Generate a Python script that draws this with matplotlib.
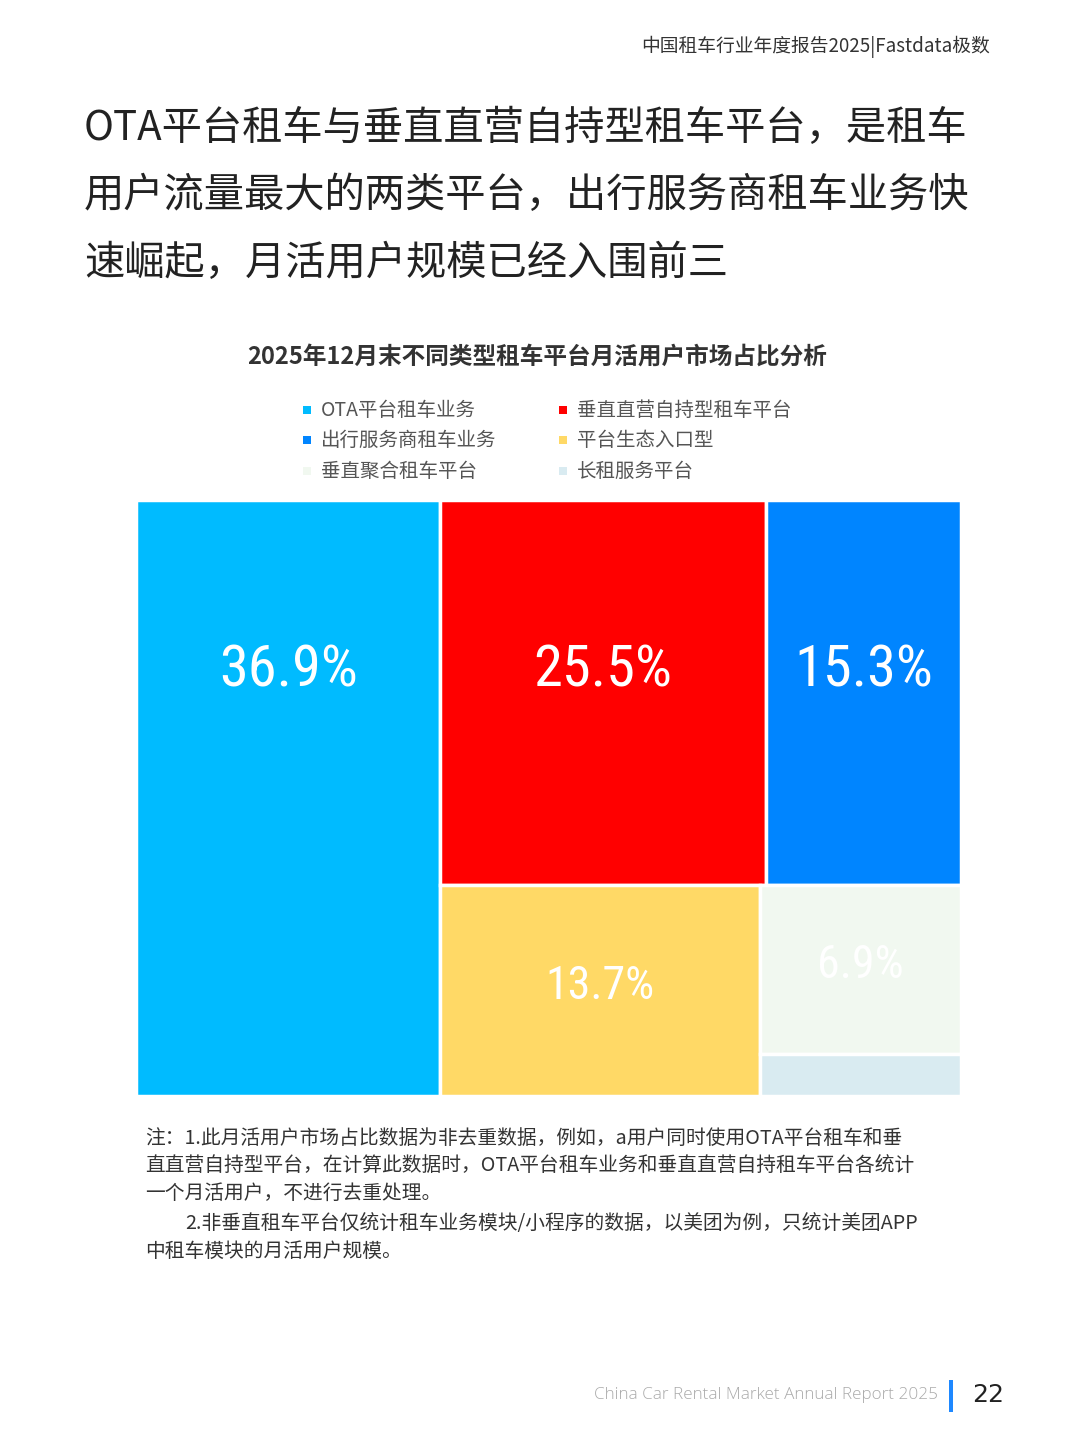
import matplotlib
matplotlib.use("Agg")
import matplotlib.pyplot as plt
from matplotlib.patches import Rectangle
from matplotlib import font_manager

plt.rcParams['font.family'] = ['Noto Sans CJK SC', 'DejaVu Sans']

# ---------------- data ----------------
categories = ["OTA平台租车业务", "垂直直营自持型租车平台", "出行服务商租车业务",
              "平台生态入口型", "垂直聚合租车平台", "长租服务平台"]
shares = [36.9, 25.5, 15.3, 13.7, 6.9, 1.7]
show_label = [True, True, True, True, True, False]
colors = ["#00BBFF", "#FF0000", "#0085FF", "#FFD966", "#F1F8F0", "#D9EBF1"]

header_text = "中国租车行业年度报告2025|Fastdata极数"
headline = ["OTA平台租车与垂直直营自持型租车平台，是租车",
            "用户流量最大的两类平台，出行服务商租车业务快",
            "速崛起，月活用户规模已经入围前三"]
chart_title = "2025年12月末不同类型租车平台月活用户市场占比分析"
notes = ["注：1.此月活用户市场占比数据为非去重数据，例如，a用户同时使用OTA平台租车和垂",
         "直直营自持型平台，在计算此数据时，OTA平台租车业务和垂直直营自持租车平台各统计",
         "一个月活用户，不进行去重处理。",
         "2.非垂直租车平台仅统计租车业务模块/小程序的数据，以美团为例，只统计美团APP",
         "中租车模块的月活用户规模。"]
footer_text = "China Car Rental Market Annual Report 2025"
page_no = "22"

# pick a narrow font for the big percentages if available
installed = {f.name for f in font_manager.fontManager.ttflist}
pct_family = "DejaVu Sans"
pct_stretch = "normal"
for cand in ["Liberation Sans Narrow", "DejaVu Sans Condensed", "Roboto Condensed"]:
    if cand in installed:
        pct_family = cand
        break


# ---------------- squarified treemap layout ----------------
def worst(row, w):
    s = sum(row)
    return max(max(w * w * r / (s * s), (s * s) / (w * w * r)) for r in row)


def layout_row(row, x, y, dx, dy):
    s = sum(row)
    rects = []
    if dx >= dy:  # lay column on the left
        width = s / dy
        yy = y
        for r in row:
            h = r / width
            rects.append((x, yy, width, h))
            yy += h
        return rects, (x + width, y, dx - width, dy)
    else:  # lay row on top
        height = s / dx
        xx = x
        for r in row:
            w = r / height
            rects.append((xx, y, w, height))
            xx += w
        return rects, (x, y + height, dx, dy - height)


def squarify(values, x, y, dx, dy):
    total = sum(values)
    areas = [v * dx * dy / total for v in values]
    rects = []
    rest = list(areas)
    rect = (x, y, dx, dy)
    while rest:
        cx, cy, cdx, cdy = rect
        w = min(cdx, cdy)
        row = [rest.pop(0)]
        while rest and worst(row + [rest[0]], w) <= worst(row, w):
            row.append(rest.pop(0))
        r, rect = layout_row(row, cx, cy, cdx, cdy)
        rects.extend(r)
    return rects


W, H = 825.0, 596.0
rects = squarify(shares, 0, 0, W, H)

# ---------------- figure ----------------
fig = plt.figure(figsize=(10.8, 14.4), dpi=100)
fig.patch.set_facecolor("white")

# header
fig.text(990 / 1080, 1 - 47 / 1440, header_text, ha="right", va="center",
         fontsize=13.5, color="#333333")

# headline
for i, line in enumerate(headline):
    fig.text(84 / 1080, 1 - (128 + 67.5 * i) / 1440, line, ha="left", va="center",
             fontsize=29, color="#222222")

# chart title
fig.text(537 / 1080, 1 - 357 / 1440, chart_title, ha="center", va="center",
         fontsize=17, fontweight="bold", color="#333333")

# legend
leg_x = [307, 563]
leg_y = [410, 440, 471]
for i, (cat, col) in enumerate(zip(categories, colors)):
    cx = leg_x[i % 2]
    cy = leg_y[i // 2]
    fig.patches.append(Rectangle(((cx - 4) / 1080, 1 - (cy + 4) / 1440), 8 / 1080, 8 / 1440,
                                 transform=fig.transFigure, facecolor=col, edgecolor="none"))
    fig.text((cx + 14) / 1080, 1 - cy / 1440, cat, ha="left", va="center",
             fontsize=14, color="#555555")

# treemap axes
ax = fig.add_axes([136 / 1080, 1 - 1096 / 1440, 825 / 1080, 596 / 1440])
ax.set_xlim(0, W)
ax.set_ylim(H, 0)
ax.axis("off")

top_row_h = None
for (x, y, w, h), col in zip(rects, colors):
    ax.add_patch(Rectangle((x, y), w, h, facecolor=col, edgecolor="white", linewidth=2.5))
    if y == 0 and x > 0 and top_row_h is None:
        top_row_h = h

for (x, y, w, h), val, show in zip(rects, shares, show_label):
    if not show:
        continue
    if y == 0:
        ly = min(h, top_row_h) / 2 - 22
        fs = 42
    else:
        ly = y + h / 2 - 5
        fs = 33
    ax.text(x + w / 2, ly, f"{val:.1f}%", ha="center", va="center", color="white",
            fontsize=fs, family=pct_family)

# notes
note_y = [1139, 1166, 1193, 1224, 1251]
note_x = [145, 145, 145, 185, 145]
for t, nx, ny in zip(notes, note_x, note_y):
    fig.text(nx / 1080, 1 - ny / 1440, t, ha="left", va="center", fontsize=14.2,
             color="#333333")

# footer
fig.text(938 / 1080, 1 - 1395 / 1440, footer_text, ha="right", va="center",
         fontsize=12.3, color="#AAAAAA", family="Open Sans", fontweight="light")
fig.patches.append(Rectangle((949 / 1080, 1 - 1412 / 1440), 4 / 1080, 32 / 1440,
                             transform=fig.transFigure, facecolor="#1E88FF", edgecolor="none"))
fig.text(972 / 1080, 1 - 1395 / 1440, page_no, ha="left", va="center",
         fontsize=18, color="#222222", family="DejaVu Sans")

fig.savefig("out.png", dpi=100, facecolor="white")
